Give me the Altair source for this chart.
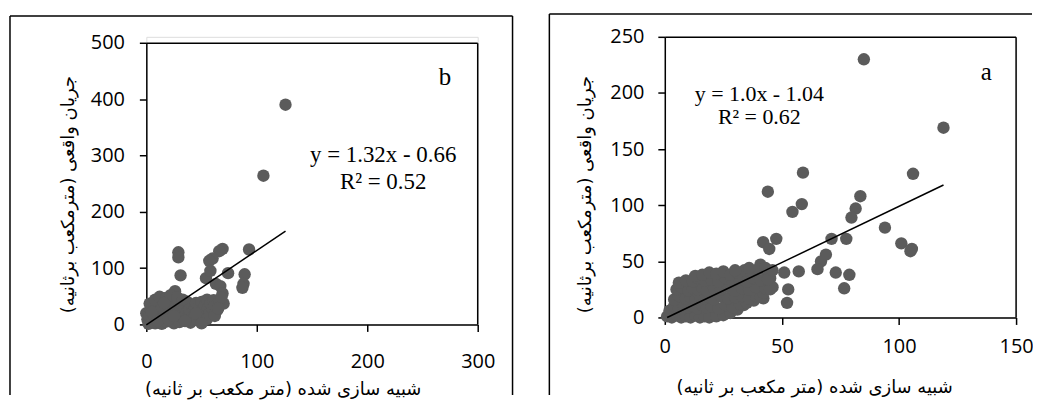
import altair as alt
import pandas as pd

# ---------------- data ----------------
# Panel b
b_x = [126, 106, 93, 69, 66, 60, 57, 29, 29, 31, 74, 89, 88, 87, 54, 58, 63, 67, 69, 70, 59, 26, 14,
       0, 1, 2, 3, 4, 5, 6, 7, 8, 9, 10, 11, 12, 13, 14, 15, 16, 17, 18, 19, 20, 21, 22, 23, 24, 25,
       26, 27, 28, 29, 30, 31, 32, 33, 34, 35, 36, 37, 38, 39, 40, 41, 42, 43, 44, 45, 46, 47, 48, 49,
       50, 51, 52, 53, 54, 55, 56, 57, 58, 60, 61, 62, 64, 66, 68, 3, 8, 12, 18, 22, 5, 10, 15, 20, 25,
       35, 45, 16, 28, 33, 55, 62, 65, 50]
b_y = [390, 264, 133, 134, 130, 117, 113, 128, 119, 87, 91, 89, 72, 65, 82, 95, 72, 68, 55, 37, 21, 59, 47,
       20, 9, 1, 15, 27, 5, 34, 16, 2, 24, 37, 10, 20, 30, 1, 41, 14, 25, 5, 35, 44, 17, 27, 9, 37, 2,
       21, 31, 13, 42, 4, 26, 36, 16, 7, 30, 20, 40, 12, 27, 3, 35, 22, 14, 30, 38, 8, 24, 32, 16,
       40, 26, 12, 34, 22, 44, 30, 18, 37, 28, 43, 33, 25, 41, 48, 37, 44, 49, 47, 52, 22, 6, 29, 9, 15,
       6, 19, 38, 48, 44, 10, 15, 28, 2]

# Panel a
a_x = [85, 119, 106, 59, 44, 58.5, 54.5, 83.5, 81.5, 79.7, 94, 101, 104.9, 105.5, 77.5, 71.2, 68.8, 66.7,
       65.2, 73, 78.8, 76.6, 57.2, 51, 52.7, 52.2, 42, 47.6, 44.6, 43.5, 45, 40.8,
       43.6, 38, 35.2, 40.8, 42.1, 35.2, 33.7,
       1, 3, 5, 7, 9, 11, 13, 15, 17, 19, 22, 25, 28, 31,
       2, 4, 6, 8, 10, 12, 14, 16, 18, 20, 23, 26, 29, 32, 35, 38,
       4, 6, 9, 11, 13, 15, 17, 19, 21, 24, 27, 30, 33, 36, 39, 41, 42,
       5, 7, 10, 12, 14, 16, 18, 21, 24, 27, 30, 33, 36, 39, 43, 46, 45,
       6, 9, 12, 14, 17, 20, 23, 26, 29, 32, 35, 38, 41, 44,
       13, 16, 19, 22, 25, 28, 31, 34, 37, 40, 43, 46, 36, 30]
a_y = [230, 169, 128, 129, 112, 101, 94, 108, 97, 89, 80, 66, 59, 61, 70, 70, 56, 50,
       43, 40, 38, 26, 41, 40, 25, 13, 67, 70, 61, 41, 35, 47,
       41, 41, 41, 29, 17, 20, 11,
       1, 0, 2, 0, 1, 0, 2, 0, 1, 0, 1, 2, 4, 7,
       6, 10, 8, 11, 9, 10, 8, 11, 9, 10, 8, 11, 9, 12, 13, 15,
       16, 19, 17, 18, 16, 19, 17, 18, 16, 19, 17, 18, 19, 17, 19, 18, 22,
       25, 27, 24, 26, 25, 27, 24, 26, 25, 27, 24, 26, 25, 27, 26, 27, 25,
       31, 33, 32, 35, 33, 34, 32, 35, 33, 34, 32, 35, 33, 34,
       37, 38, 40, 39, 41, 38, 40, 42, 41, 43, 44, 42, 44, 42]

b_slope, b_intercept = 1.32, -0.66
a_slope, a_intercept = 1.0, -1.04

b_eq = ["y = 1.32x - 0.66", "R² = 0.52"]
a_eq = ["y = 1.0x - 1.04", "R² = 0.62"]

x_title = "شبیه سازی شده (متر مکعب بر ثانیه)"
y_title = "جریان واقعی (مترمکعب برثانیه)"

b_xticks = [0, 100, 200, 300]
b_yticks = [0, 100, 200, 300, 400, 500]
a_xticks = [0, 50, 100, 150]
a_yticks = [0, 50, 100, 150, 200, 250]

TICK_FONT = "Open Sans"
TITLE_FONT = "DejaVu Sans"
SERIF = "Liberation Serif"
DOT = "#5b5b5b"
LW = 1.5


def rtl(s):
    return "\u202b" + s + "\u202c"


def one():
    return alt.Data(values=[{"k": 0}])


def hrule(x, x2, y):
    return alt.Chart(one()).mark_rule(color="black", strokeWidth=LW).encode(
        x=alt.value(x), x2=alt.value(x2), y=alt.value(y))


def vrule(x, y, y2):
    return alt.Chart(one()).mark_rule(color="black", strokeWidth=LW).encode(
        x=alt.value(x), y=alt.value(y), y2=alt.value(y2))


def panel(xs, ys, xticks, yticks, slope, intercept, eq, letter, g):
    df = pd.DataFrame({"x": xs, "y": ys})
    x0, x1 = min(xs), max(xs)
    line_df = pd.DataFrame({"x": [x0, x1], "y": [slope * x0 + intercept, slope * x1 + intercept]})

    top = g["top"]
    xscale = alt.Scale(domain=[xticks[0], xticks[-1]], nice=False, zero=False)
    yscale = alt.Scale(domain=[yticks[0], yticks[-1]], nice=False, zero=False,
                       range=[g["h"], top])

    common = dict(labelFont=TICK_FONT, labelFontSize=20, labelColor="black",
                  tickColor="black", tickSize=7, tickWidth=LW,
                  domainColor="black", domainWidth=LW, grid=False,
                  labelFlush=False, labelOverlap=False,
                  titleFont=TITLE_FONT, titleFontSize=g["tfs"], titleColor="black",
                  titleFontWeight="normal", titleBaseline="middle", titleAlign="center")

    xaxis = alt.Axis(values=xticks, title=rtl(x_title), labelPadding=g["xlp"],
                     titleX=g["xtx"], titleY=g["xty"], **common)
    yaxis = alt.Axis(values=yticks, title=rtl(y_title), labelPadding=g["ylp"],
                     titleX=g["ytx"], titleY=g["yty"], titleAngle=270, **common)

    pts = alt.Chart(df).mark_circle(size=155, color=DOT, opacity=1).encode(
        x=alt.X("x:Q", scale=xscale, axis=xaxis),
        y=alt.Y("y:Q", scale=yscale, axis=yaxis),
    )
    trend = alt.Chart(line_df).mark_line(color="black", strokeWidth=1.5).encode(
        x=alt.X("x:Q", scale=xscale), y=alt.Y("y:Q", scale=yscale))

    layers = [pts, trend]
    for txt, (tx, ty) in zip(eq, g["eqpos"]):
        layers.append(alt.Chart(one()).mark_text(
            text=txt, font=SERIF, fontSize=g["efs"], color="black", align="center",
            baseline="alphabetic").encode(x=alt.value(tx), y=alt.value(ty)))
    layers.append(alt.Chart(one()).mark_text(
        text=letter, font=SERIF, fontSize=25, color="black", align="center",
        baseline="alphabetic").encode(x=alt.value(g["let"][0]), y=alt.value(g["let"][1])))

    # plot frame (top and right sides)
    layers.append(hrule(0.5, g["w"], top + 0.5))
    layers.append(vrule(g["w"], top + 0.5, g["h"]))

    # outer panel frame (visible sides)
    L, R, T, B = g["frame"]
    layers.append(hrule(L, R, T))
    layers.append(vrule(L, T, B))
    if g["right_side"]:
        layers.append(vrule(R, T, B))

    return alt.layer(*layers).properties(width=g["w"], height=g["h"])


# both plot groups share the same origin row (y = 34 on the page)
gb = dict(w=333, h=289, top=6, xlp=20, ylp=15, tfs=18, efs=23,
          xtx=137, xty=65, ytx=-78, yty=158,
          eqpos=[(238, 126), (238, 153)], let=(300, 48),
          frame=(-137, 368, -21, 360), right_side=True)
ga = dict(w=353, h=282, top=0, xlp=12, ylp=14, tfs=18, efs=22,
          xtx=150, xty=70, ytx=-80, yty=158,
          eqpos=[(95, 64), (95, 88)], let=(323, 43),
          frame=(-116, 369, -23, 360), right_side=False)

left = panel(b_x, b_y, b_xticks, b_yticks, b_slope, b_intercept, b_eq, "b", gb)
right = panel(a_x, a_y, a_xticks, a_yticks, a_slope, a_intercept, a_eq, "a", ga)

chart = alt.hconcat(left, right, spacing=33).properties(
    padding={"left": 0, "top": 3, "right": -1, "bottom": 0}
).configure_view(stroke="transparent", strokeWidth=0).configure(background="white")

chart.save("out.html", embed_options={"renderer": "svg", "actions": False})
